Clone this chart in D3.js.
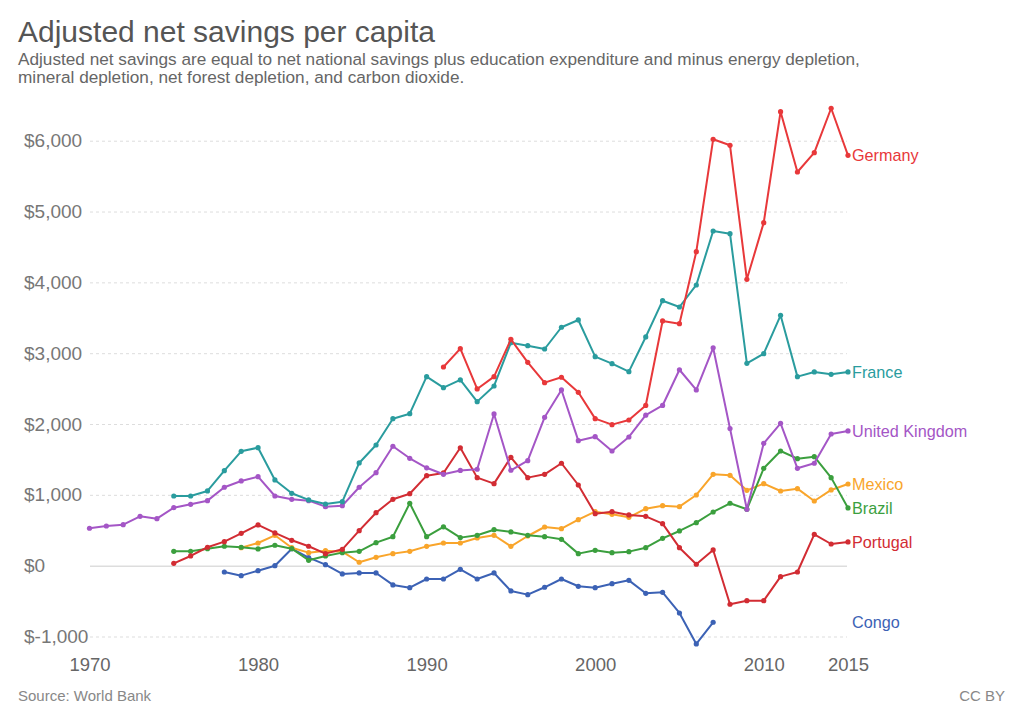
<!DOCTYPE html>
<html>
<head>
<meta charset="utf-8">
<script src="https://cdn.jsdelivr.net/npm/d3@7"></script>
<style>
  body { margin: 0; background: #fff; }
  svg { font-family: "Liberation Sans", Arial, sans-serif; }
</style>
</head>
<body>
<svg width="1024" height="723"></svg>
<script>
// values, US$ per person
var ukStart = 1970;
var ukValues = [528, 560, 579, 697, 664, 819, 866, 918, 1107, 1196, 1257, 984, 937, 918, 833, 847, 1107, 1313, 1686, 1516,
    1382, 1290, 1345, 1361, 2142, 1347, 1483, 2095, 2481, 1765, 1821, 1619, 1817, 2125, 2262, 2766, 2481, 3076, 1937, 796,
    1728, 2010, 1375, 1446, 1859, 1902];
var franceStart = 1975;
var franceValues = [984, 984, 1055, 1341, 1615, 1666, 1210, 1022, 928, 871, 904, 1450, 1704, 2075, 2146, 2669, 2513, 2622,
    2316, 2537, 3148, 3106, 3059, 3366, 3469, 2951, 2852, 2739, 3229, 3741, 3652, 3963, 4725, 4687, 2857, 2993, 3535, 2669,
    2735, 2702, 2735];
var germanyStart = 1991;
var germanyValues = [2805, 3064, 2495, 2669, 3196, 2871, 2584, 2660, 2448, 2076, 1991, 2057, 2262, 3455, 3417, 4433, 6020,
    5935, 4043, 4843, 6410, 5558, 5831, 6458, 5794];
var portugalStart = 1975;
var portugalValues = [33, 137, 260, 339, 457, 575, 462, 358, 274, 170, 231, 494, 748, 937, 1016, 1271, 1309, 1664, 1243,
    1158, 1530, 1243, 1290, 1446, 1139, 734, 762, 716, 697, 593, 254, 20, 222, -545, -494, -494, -155, -89, 443, 306, 335];
var brazilStart = 1975;
var brazilValues = [203, 203, 240, 274, 260, 236, 288, 240, 76, 137, 184, 203, 325, 409, 881, 409, 548, 396, 429, 508, 476,
    429, 410, 372, 170, 217, 184, 198, 254, 386, 490, 607, 758, 881, 796, 1375, 1619, 1511, 1539, 1243, 815];
var mexicoStart = 1979;
var mexicoValues = [254, 320, 429, 254, 184, 212, 198, 48, 118, 170, 203, 273, 320, 320, 391, 429, 273, 419, 546, 522, 650,
    762, 725, 683, 805, 847, 833, 998, 1290, 1276, 1064, 1158, 1054, 1087, 913, 1069, 1153];
var congoStart = 1978;
var congoValues = [-89, -141, -71, 0, 240, 113, 14, -117, -103, -103, -272, -311, -188, -188, -51, -188, -103, -357, -409,
    -305, -188, -291, -311, -254, -207, -390, -376, -668, -1105, -799];

var xTicks = [1970, 1980, 1990, 2000, 2010, 2015];
var yTicks = [-1000, 0, 1000, 2000, 3000, 4000, 5000, 6000];

var series = [
    {name: 'Congo', start: congoStart, values: congoValues, color: '#3c62b5'},
    {name: 'Mexico', start: mexicoStart, values: mexicoValues, color: '#f9a52b'},
    {name: 'Brazil', start: brazilStart, values: brazilValues, color: '#3b9f3e'},
    {name: 'Portugal', start: portugalStart, values: portugalValues, color: '#d22c33'},
    {name: 'United Kingdom', start: ukStart, values: ukValues, color: '#a456c6'},
    {name: 'France', start: franceStart, values: franceValues, color: '#2a9c9e'},
    {name: 'Germany', start: germanyStart, values: germanyValues, color: '#e8383a'}
];
series.forEach(s => {
    s.points = s.values.map((v, i) => ({year: s.start + i, value: v}));
});

var svg = d3.select('svg');

//scales
var xScale = d3.scaleLinear()
    .domain([1970, 2015])
    .range([89.5, 848]);
var yScale = d3.scaleLinear()
    .domain([-1000, 6000])
    .range([636.5, 140.7]);

// titles
svg.append('text')
    .attr('x', 18).attr('y', 42)
    .attr('font-size', 30)
    .attr('fill', '#555')
    .text('Adjusted net savings per capita');
svg.append('text')
    .attr('x', 18).attr('y', 64.5)
    .attr('font-size', 17.2)
    .attr('fill', '#666')
    .text('Adjusted net savings are equal to net national savings plus education expenditure and minus energy depletion,');
svg.append('text')
    .attr('x', 18).attr('y', 82.5)
    .attr('font-size', 17.2)
    .attr('fill', '#666')
    .text('mineral depletion, net forest depletion, and carbon dioxide.');

// y axis with grid
var yAxis = d3.axisLeft(yScale)
    .tickValues(yTicks)
    .tickSize(-(847 - 90))
    .tickFormat(d => '$' + d3.format(',')(d).replace('\u2212', '-'));
var yG = svg.append('g')
    .attr('transform', 'translate(' + [90, 0] + ')')
    .call(yAxis);
yG.select('.domain').remove();
yG.selectAll('line')
    .attr('stroke', d => d === 0 ? '#ccc' : '#ddd')
    .attr('stroke-dasharray', d => d === 0 ? null : '3,3');
yG.selectAll('text')
    .attr('x', -66)
    .attr('text-anchor', 'start')
    .attr('font-size', 19)
    .attr('fill', '#777')
    .attr('font-family', '"Liberation Sans", Arial, sans-serif');

// x axis, labels only
var xAxis = d3.axisBottom(xScale)
    .tickValues(xTicks)
    .tickSize(0)
    .tickFormat(d3.format('d'));
var xG = svg.append('g')
    .attr('transform', 'translate(' + [0, 670.5] + ')')
    .call(xAxis);
xG.select('.domain').remove();
xG.selectAll('text')
    .attr('y', 0)
    .attr('dy', 0)
    .attr('font-size', 18.5)
    .attr('fill', '#666')
    .attr('font-family', '"Liberation Sans", Arial, sans-serif');

// lines
var line = d3.line()
    .x(d => xScale(d.year))
    .y(d => yScale(d.value));

var groups = svg.selectAll('g.series')
    .data(series)
    .enter().append('g')
    .attr('class', 'series');

groups.append('path')
    .attr('d', d => line(d.points))
    .attr('fill', 'none')
    .attr('stroke', d => d.color)
    .attr('stroke-width', 2)
    .attr('stroke-linejoin', 'round');

groups.selectAll('circle')
    .data(d => d.points.map(p => ({year: p.year, value: p.value, color: d.color})))
    .enter().append('circle')
    .attr('cx', d => xScale(d.year))
    .attr('cy', d => yScale(d.value))
    .attr('r', 2.6)
    .attr('fill', d => d.color);

// end labels
groups.append('text')
    .attr('x', 852)
    .attr('y', d => yScale(d.values[d.values.length - 1]))
    .attr('dy', '0.35em')
    .attr('font-size', 16.2)
    .attr('fill', d => d.color)
    .text(d => d.name);

// footer
svg.append('text')
    .attr('x', 18).attr('y', 701)
    .attr('font-size', 15)
    .attr('fill', '#888')
    .text('Source: World Bank');
svg.append('text')
    .attr('x', 1005).attr('y', 701)
    .attr('text-anchor', 'end')
    .attr('font-size', 15)
    .attr('fill', '#888')
    .text('CC BY');
</script>
</body>
</html>
